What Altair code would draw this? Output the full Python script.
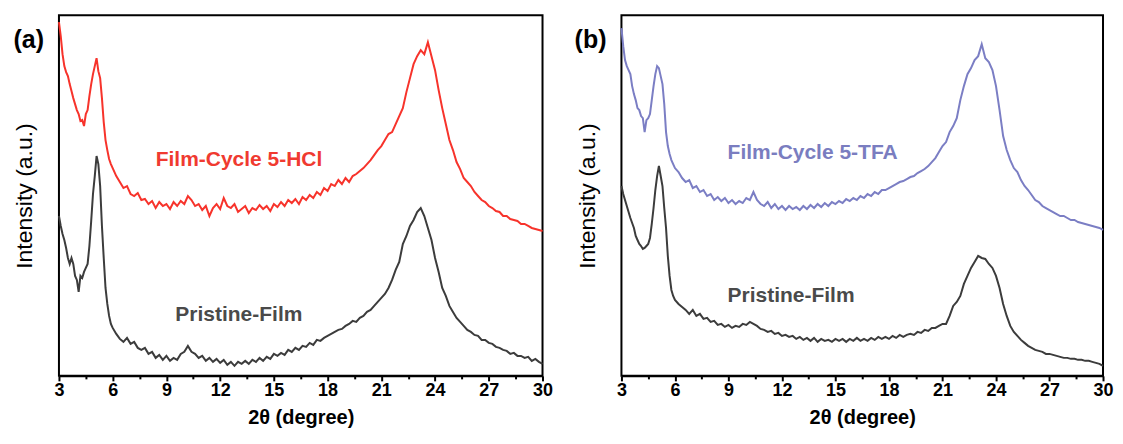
import altair as alt
import pandas as pd

# 2theta sampling grid (degrees)
two_theta = [3.0, 3.1, 3.2, 3.3, 3.4, 3.5, 3.6, 3.7, 3.8, 3.9,
             4.0, 4.1, 4.2, 4.3, 4.4, 4.5, 4.6, 4.7, 4.8, 4.9,
             5.0, 5.1, 5.2, 5.3, 5.4, 5.5, 5.6, 5.7, 5.8, 5.9, 6.0,
             6.2, 6.4, 6.6, 6.8, 7.0, 7.2, 7.4, 7.6, 7.8, 8.0,
             8.2, 8.4, 8.6, 8.8, 9.0, 9.2, 9.4, 9.6, 9.8, 10.0,
             10.2, 10.4, 10.6, 10.8, 11.0, 11.2, 11.4, 11.6, 11.8, 12.0,
             12.2, 12.4, 12.6, 12.8, 13.0, 13.2, 13.4, 13.6, 13.8, 14.0,
             14.2, 14.4, 14.6, 14.8, 15.0, 15.2, 15.4, 15.6, 15.8, 16.0,
             16.2, 16.4, 16.6, 16.8, 17.0, 17.2, 17.4, 17.6, 17.8, 18.0,
             18.2, 18.4, 18.6, 18.8, 19.0, 19.2, 19.4, 19.6, 19.8, 20.0,
             20.2, 20.4, 20.6, 20.8, 21.0, 21.2, 21.4, 21.6, 21.8, 22.0,
             22.2, 22.4, 22.6, 22.8, 23.0, 23.2, 23.4, 23.6, 23.8, 24.0,
             24.2, 24.4, 24.6, 24.8, 25.0, 25.2, 25.4, 25.6, 25.8, 26.0,
             26.2, 26.4, 26.6, 26.8, 27.0, 27.2, 27.4, 27.6, 27.8, 28.0,
             28.2, 28.4, 28.6, 28.8, 29.0, 29.2, 29.4, 29.6, 29.8, 30.0]

# Panel (a)
hcl_cycle5 = [354, 340, 322, 310, 304, 300, 292, 285, 278, 272,
              266, 262, 255, 256, 250, 262, 266, 280, 292, 302,
              310, 318, 305, 298, 278, 254, 236, 226, 217, 212, 208,
              200, 194, 188, 190, 182, 180, 183, 176, 177, 172,
              175, 168, 174, 170, 172, 167, 174, 170, 175, 172,
              180, 176, 170, 172, 166, 170, 160, 168, 172, 167,
              178, 170, 168, 172, 164, 167, 170, 163, 168, 166,
              171, 167, 170, 165, 172, 169, 174, 170, 176, 173,
              177, 172, 179, 176, 181, 178, 184, 181, 188, 185,
              192, 190, 196, 192, 198, 194, 200, 202, 205, 208,
              212, 216, 221, 226, 230, 236, 242, 244, 252, 260,
              268, 284, 298, 312, 320, 326, 322, 334, 320, 306,
              286, 268, 252, 236, 226, 214, 207, 198, 194, 190,
              184, 180, 176, 174, 170, 168, 165, 164, 160, 160,
              157, 156, 155, 152, 152, 150, 148, 147, 146, 145]

pristine_a = [160, 150, 142, 136, 128, 118, 112, 118, 112, 100,
              96, 84, 100, 98, 104, 108, 112, 130, 155, 182,
              200, 220, 212, 190, 150, 118, 88, 72, 60, 52, 48,
              42, 37, 34, 38, 32, 34, 28, 26, 28, 22,
              24, 18, 21, 16, 20, 15, 18, 16, 22, 24,
              30, 24, 22, 18, 20, 15, 18, 14, 17, 13,
              16, 11, 14, 10, 14, 12, 15, 12, 16, 14,
              18, 15, 19, 17, 22, 20, 23, 21, 26, 24,
              28, 26, 30, 29, 33, 31, 36, 35, 38, 40,
              42, 44, 46, 47, 50, 52, 55, 54, 58, 60,
              64, 66, 70, 74, 78, 82, 88, 96, 106, 114,
              132, 140, 150, 156, 164, 168, 160, 148, 136, 118,
              104, 88, 80, 70, 64, 58, 54, 50, 46, 44,
              41, 40, 36, 36, 33, 32, 29, 28, 26, 25,
              22, 23, 20, 20, 18, 19, 15, 17, 14, 12]

# Panel (b)
tfa_cycle5 = [348, 330, 316, 310, 306, 302, 290, 282, 276, 268,
              266, 260, 258, 244, 256, 258, 262, 276, 290, 302,
              310, 308, 300, 292, 272, 244, 230, 222, 216, 212, 208,
              204, 198, 194, 196, 188, 190, 184, 186, 180, 182,
              176, 179, 175, 178, 173, 176, 172, 175, 173, 178,
              176, 184, 176, 172, 170, 174, 168, 172, 167, 170,
              166, 170, 167, 169, 166, 170, 167, 171, 168, 172,
              169, 173, 170, 174, 172, 175, 173, 177, 175, 178,
              176, 180, 178, 182, 180, 184, 182, 186, 186, 188,
              190, 192, 194, 195, 197, 199, 200, 203, 205, 207,
              210, 214, 218, 224, 230, 234, 244, 250, 258, 276,
              290, 302, 308, 316, 320, 332, 318, 314, 306, 290,
              266, 240, 226, 216, 208, 204, 196, 190, 186, 181,
              176, 174, 170, 168, 166, 164, 162, 160, 160, 158,
              156, 156, 154, 153, 152, 151, 150, 149, 148, 146]

pristine_b = [190, 182, 176, 170, 164, 158, 153, 148, 140, 136,
              132, 130, 127, 128, 130, 132, 138, 152, 168, 186,
              200, 210, 200, 190, 168, 148, 120, 100, 86, 80, 76,
              72, 69, 66, 62, 66, 60, 62, 57, 58, 54,
              55, 51, 52, 49, 51, 48, 50, 49, 52, 51,
              54, 52, 50, 47, 46, 44, 45, 42, 43, 40,
              41, 39, 40, 37, 39, 36, 38, 35, 38, 34,
              37, 35, 36, 34, 37, 35, 37, 34, 37, 35,
              38, 35, 37, 35, 38, 36, 39, 37, 39, 37,
              40, 38, 41, 39, 41, 42, 41, 44, 43, 46,
              45, 48, 48, 50, 52, 52, 60, 70, 74, 80,
              92, 100, 108, 114, 120, 118, 117, 112, 108, 100,
              88, 72, 60, 50, 44, 40, 36, 33, 30, 28,
              26, 25, 24, 22, 22, 21, 20, 19, 18, 18,
              17, 17, 16, 16, 15, 15, 14, 13, 12, 10]

tick_values = [3, 4.5, 6, 7.5, 9, 10.5, 12, 13.5, 15, 16.5, 18, 19.5,
               21, 22.5, 24, 25.5, 27, 28.5, 30]

labels_a = ["Film-Cycle 5-HCl", "Pristine-Film"]
label_pos_a = [(8.4, 216), (9.5, 61)]
labels_b = ["Film-Cycle 5-TFA", "Pristine-Film"]
label_pos_b = [(8.95, 223), (8.95, 80)]

RED = "#f7332b"
GRAY = "#3c3c3c"
PURPLE = "#7b7ec4"
FONT = "Liberation Sans"
H = 361


def panel(top_vals, top_color, bot_vals, labels, label_pos, label_colors, tag, width):
    xscale = alt.Scale(domain=[3, 30], nice=False, zero=False)
    yscale = alt.Scale(domain=[0, H], nice=False, zero=True)
    xaxis = alt.Axis(values=tick_values, title="2θ (degree)",
                     labelExpr="datum.value % 3 == 0 ? datum.label : ''",
                     labelFont=FONT, labelFontWeight="bold", labelFontSize=18,
                     labelColor="black", labelPadding=1, labelFlush=False,
                     tickSize={"condition": {"test": "datum.value % 3 == 0", "value": 5}, "value": 3},
                     tickWidth=2, tickColor="black",
                     domainColor="black", domainWidth=2,
                     titleFont=FONT, titleFontWeight="bold", titleFontSize=20,
                     titleColor="black", titlePadding=8, grid=False)
    yaxis = alt.Axis(labels=False, ticks=False, domain=False, grid=False,
                     title="Intensity (a.u.)", titleFont=FONT,
                     titleFontWeight="normal", titleFontSize=23,
                     titleColor="black", titlePadding=22)
    X = lambda: alt.X("x:Q", scale=xscale, axis=xaxis)
    Y = lambda: alt.Y("y:Q", scale=yscale, axis=yaxis)
    layers = []
    for vals, col in [(top_vals, top_color), (bot_vals, GRAY)]:
        df = pd.DataFrame({"x": two_theta, "y": vals})
        layers.append(alt.Chart(df).mark_line(strokeWidth=2, color=col).encode(x=X(), y=Y()))
    for (px, py), t, c in zip(label_pos, labels, label_colors):
        tdf = pd.DataFrame({"x": [px], "y": [py], "t": [t]})
        layers.append(alt.Chart(tdf).mark_text(font=FONT, fontWeight="bold", fontSize=21,
                                               align="left", baseline="middle",
                                               color=c).encode(x=X(), y=Y(), text="t:N"))
    tag_df = pd.DataFrame({"t": [tag]})
    layers.append(alt.Chart(tag_df).mark_text(font=FONT, fontWeight="bold", fontSize=25,
                                              align="right", baseline="middle",
                                              color="black").encode(
        x=alt.value(-15), y=alt.value(25), text="t:N"))
    return alt.layer(*layers).properties(width=width, height=H)


pa = panel(hcl_cycle5, RED, pristine_a, labels_a, label_pos_a, ["#f03a30", "#4a4a4a"], "(a)", 484)
pb = panel(tfa_cycle5, PURPLE, pristine_b, labels_b, label_pos_b, ["#7a7dc0", "#4a4a4a"], "(b)", 482)

chart = alt.hconcat(pa, pb, spacing=19).properties(
    padding={"left": 4, "top": 6, "right": 0, "bottom": 0},
    background="white",
).configure_view(stroke="black", strokeWidth=2)

chart.save("out.html", embed_options={"renderer": "svg", "actions": False})
